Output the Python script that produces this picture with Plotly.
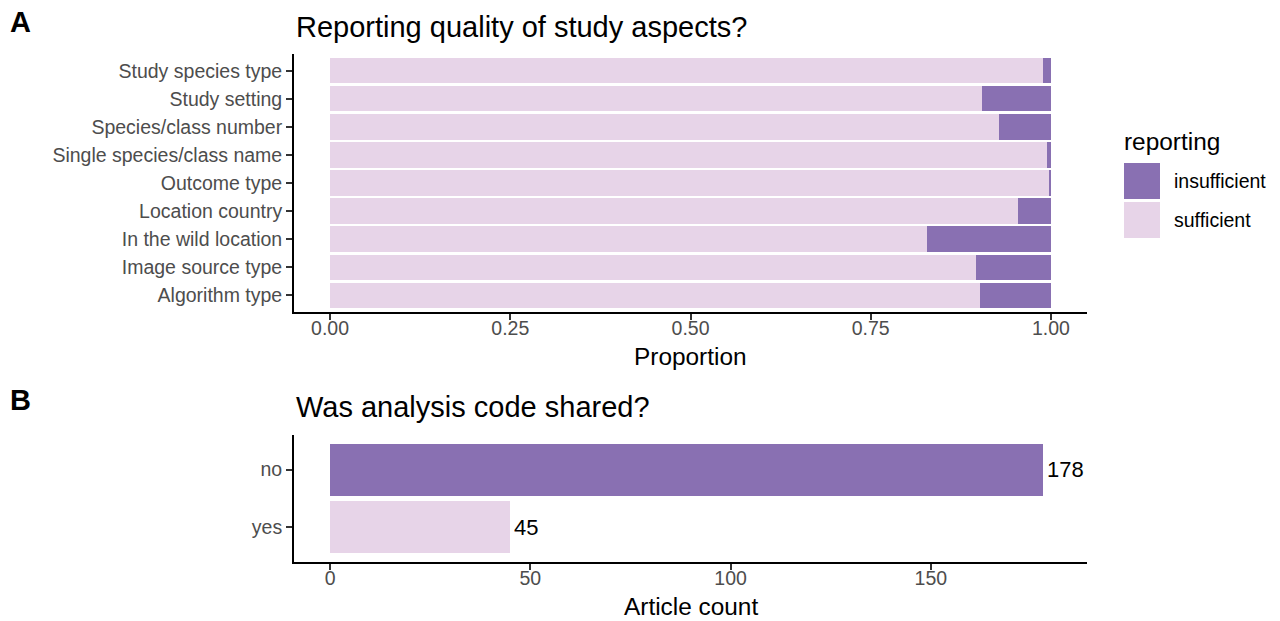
import plotly.graph_objects as go

# ---- data ----
aspects = [
    "Study species type",
    "Study setting",
    "Species/class number",
    "Single species/class name",
    "Outcome type",
    "Location country",
    "In the wild location",
    "Image source type",
    "Algorithm type",
]
prop_sufficient = [0.989, 0.904, 0.928, 0.995, 0.997, 0.954, 0.828, 0.896, 0.902]
prop_insufficient = [0.011, 0.096, 0.072, 0.005, 0.003, 0.046, 0.172, 0.104, 0.098]

code_shared = ["no", "yes"]
article_count = [178, 45]

proportion_ticks = [0, 0.25, 0.5, 0.75, 1.0]
proportion_ticklabels = ["0.00", "0.25", "0.50", "0.75", "1.00"]
count_ticks = [0, 50, 100, 150]

# ---- styling ----
W, H = 1280, 621
COL_INSUF = "#8970B2"
COL_SUF = "#E7D4E8"
FONT = "Helvetica, Liberation Sans, Arial, sans-serif"
TICK_FONT = dict(family=FONT, size=19.5, color="#4D4D4D")


def px_x(x):
    return x / W


def px_y(y):
    return (H - y) / H


fig = go.Figure()

# Panel A: stacked proportions
fig.add_trace(go.Bar(
    y=aspects, x=prop_sufficient, orientation="h", width=0.9,
    marker=dict(color=COL_SUF, line=dict(width=0)),
    name="sufficient", xaxis="x", yaxis="y", showlegend=False,
))
fig.add_trace(go.Bar(
    y=aspects, x=prop_insufficient, orientation="h", width=0.9,
    marker=dict(color=COL_INSUF, line=dict(width=0)),
    name="insufficient", xaxis="x", yaxis="y", showlegend=False,
))

# Panel B: article counts
fig.add_trace(go.Bar(
    y=code_shared, x=article_count, orientation="h", width=0.9,
    marker=dict(color=[COL_INSUF, COL_SUF], line=dict(width=0)),
    xaxis="x2", yaxis="y2", showlegend=False,
))

axis_common = dict(
    showline=True, linecolor="black", linewidth=1.8,
    ticks="outside", ticklen=6, tickwidth=1.8, tickcolor="#333333",
    showgrid=False, zeroline=False, tickfont=TICK_FONT,
)
x_axis_extra = dict(ticklabelstandoff=-8)

plot_left, plot_right = 294, 1087

fig.update_layout(
    width=W, height=H,
    margin=dict(l=0, r=0, t=0, b=0),
    paper_bgcolor="white", plot_bgcolor="white",
    barmode="stack",
    font=dict(family=FONT, color="black"),
    xaxis=dict(
        domain=[px_x(plot_left), px_x(plot_right)], anchor="y",
        range=[-0.05, 1.05], tickvals=proportion_ticks,
        ticktext=proportion_ticklabels, **axis_common, **x_axis_extra,
    ),
    yaxis=dict(
        domain=[px_y(312), px_y(54)], anchor="x",
        categoryorder="array", categoryarray=aspects[::-1],
        range=[-0.6, len(aspects) - 0.4], **axis_common,
    ),
    xaxis2=dict(
        domain=[px_x(plot_left), px_x(plot_right)], anchor="y2",
        range=[-9, 189], tickvals=count_ticks, **axis_common, **x_axis_extra,
    ),
    yaxis2=dict(
        domain=[px_y(562), px_y(435)], anchor="x2",
        categoryorder="array", categoryarray=code_shared[::-1],
        range=[-0.6, len(code_shared) - 0.4], **axis_common,
    ),
)

annotations = []


def text_at(x, y, text, size, xanchor="left", yanchor="middle", bold=False, color="black"):
    annotations.append(dict(
        x=px_x(x), y=px_y(y), xref="paper", yref="paper",
        text=f"<b>{text}</b>" if bold else text, showarrow=False,
        xanchor=xanchor, yanchor=yanchor,
        font=dict(family=FONT, size=size, color=color),
    ))


# panel tags and titles
text_at(8, 22, "A", 29, bold=True)
text_at(8, 400, "B", 29, bold=True)
text_at(294, 27, "Reporting quality of study aspects?", 29)
text_at(294, 407, "Was analysis code shared?", 29)

# axis titles
text_at((330 + 1051) / 2, 356, "Proportion", 24.4, xanchor="center")
text_at((330 + 1051) / 2, 606, "Article count", 24.4, xanchor="center")

# count labels at bar ends
for cat, val in zip(code_shared, article_count):
    annotations.append(dict(
        x=val, y=cat, xref="x2", yref="y2", text=str(val), showarrow=False,
        xanchor="left", yanchor="middle", xshift=2,
        font=dict(family=FONT, size=22, color="black"),
    ))

# legend
text_at(1122, 141, "reporting", 24.4)
legend_items = [("insufficient", COL_INSUF, 163), ("sufficient", COL_SUF, 202)]
shapes = []
for label, col, top in legend_items:
    shapes.append(dict(
        type="rect", xref="paper", yref="paper",
        x0=px_x(1124), x1=px_x(1160), y0=px_y(top + 36), y1=px_y(top),
        fillcolor=col, line=dict(width=0),
    ))
    text_at(1172, top + 18, label, 19.5)

fig.update_layout(annotations=annotations, shapes=shapes)

fig.write_html("out.html")
